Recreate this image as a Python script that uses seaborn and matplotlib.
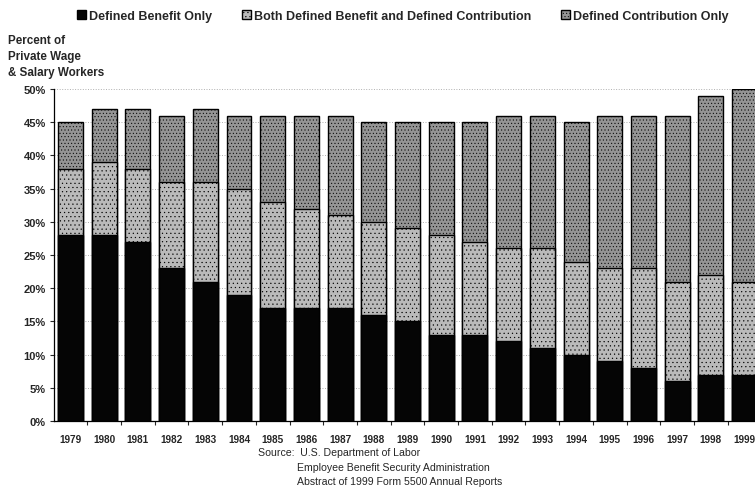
import numpy as np
import pandas as pd
import seaborn as sns
import matplotlib.pyplot as plt
from matplotlib.patches import Patch
from matplotlib.ticker import FixedLocator

years = [str(y) for y in range(1979, 2000)]
db_only = [28, 28, 27, 23, 21, 19, 17, 17, 17, 16, 15, 13, 13, 12, 11, 10, 9, 8, 6, 7, 7]
both = [10, 11, 11, 13, 15, 16, 16, 15, 14, 14, 14, 15, 14, 14, 15, 14, 14, 15, 15, 15, 14]
dc_only = [7, 8, 9, 10, 11, 11, 13, 14, 15, 15, 16, 17, 18, 20, 20, 21, 23, 23, 25, 27, 29]
series_names = ['Defined Benefit Only',
                'Both Defined Benefit and Defined Contribution',
                'Defined Contribution Only']
y_ticks = [0, 5, 10, 15, 20, 25, 30, 35, 40, 45, 50]

df = pd.DataFrame({'year': years, 'db': db_only, 'both': both, 'dc': dc_only})
df['top_both'] = df['db'] + df['both']
df['total'] = df['top_both'] + df['dc']

sns.set_style('white')
plt.rcParams['font.family'] = ['Liberation Sans', 'DejaVu Sans']
plt.rcParams['hatch.linewidth'] = 0.35

col_db = '#050505'
col_both = '#bababa'
col_dc = '#959595'

fig = plt.figure(figsize=(7.55, 4.89), dpi=100)
ax = fig.add_axes([0.0715, 0.137, 0.9285, 0.679])

ax.yaxis.grid(True, linestyle=':', color='#b0b0b0', linewidth=0.7)
ax.set_axisbelow(True)

# stacked bars drawn as overlapping cumulative totals
for col, colour in [('total', col_dc), ('top_both', col_both), ('db', col_db)]:
    sns.barplot(data=df, x='year', y=col, color=colour, saturation=1,
                width=0.74, edgecolor='black', linewidth=1.0, ax=ax)

for bar in ax.containers[0]:
    bar.set_hatch('.....')
for bar in ax.containers[1]:
    bar.set_hatch('....')

ax.set_xlim(-0.49, 20.31)
ax.set_ylim(0, 50)
ax.set_yticks(y_ticks)
ax.set_yticklabels([f'{t}%' for t in y_ticks], fontsize=8, fontweight='bold')
ax.set_xticks(range(len(years)))
ax.set_xticklabels(years, fontsize=7.2, fontweight='bold')
ax.xaxis.set_minor_locator(FixedLocator(np.arange(-0.5, len(years), 1)))
ax.tick_params(axis='x', which='major', length=0, pad=9)
ax.tick_params(axis='x', which='minor', length=3, width=0.8, direction='out', bottom=True)
ax.tick_params(axis='y', length=3, width=0.8, direction='out', left=True, pad=3)
ax.set_xlabel('')
ax.set_ylabel('')
sns.despine(ax=ax)
for s in ['left', 'bottom']:
    ax.spines[s].set_color('black')
    ax.spines[s].set_linewidth(0.9)

fig.text(0.011, 0.916, 'Percent of', fontsize=8.4, fontweight='bold', va='center')
fig.text(0.011, 0.883, 'Private Wage', fontsize=8.4, fontweight='bold', va='center')
fig.text(0.011, 0.850, '& Salary Workers', fontsize=8.4, fontweight='bold', va='center')

handles = [Patch(facecolor=col_db, edgecolor='black'),
           Patch(facecolor=col_both, edgecolor='black', hatch='....'),
           Patch(facecolor=col_dc, edgecolor='black', hatch='.....')]
legend_x = [0.102, 0.3205, 0.743]
for h, name, lx in zip(handles, series_names, legend_x):
    fig.legend(handles=[h], labels=[name], loc='center left',
               bbox_to_anchor=(lx, 0.966), frameon=False,
               handlelength=0.7, handleheight=0.7, handletextpad=0.25,
               borderaxespad=0, borderpad=0,
               prop={'size': 9, 'weight': 'bold'})

fig.text(0.342, 0.073, 'Source:  U.S. Department of Labor', fontsize=7.6, va='center')
fig.text(0.394, 0.043, 'Employee Benefit Security Administration', fontsize=7.6, va='center')
fig.text(0.394, 0.014, 'Abstract of 1999 Form 5500 Annual Reports', fontsize=7.6, va='center')

fig.savefig('out.png', dpi=100)
plt.close(fig)
